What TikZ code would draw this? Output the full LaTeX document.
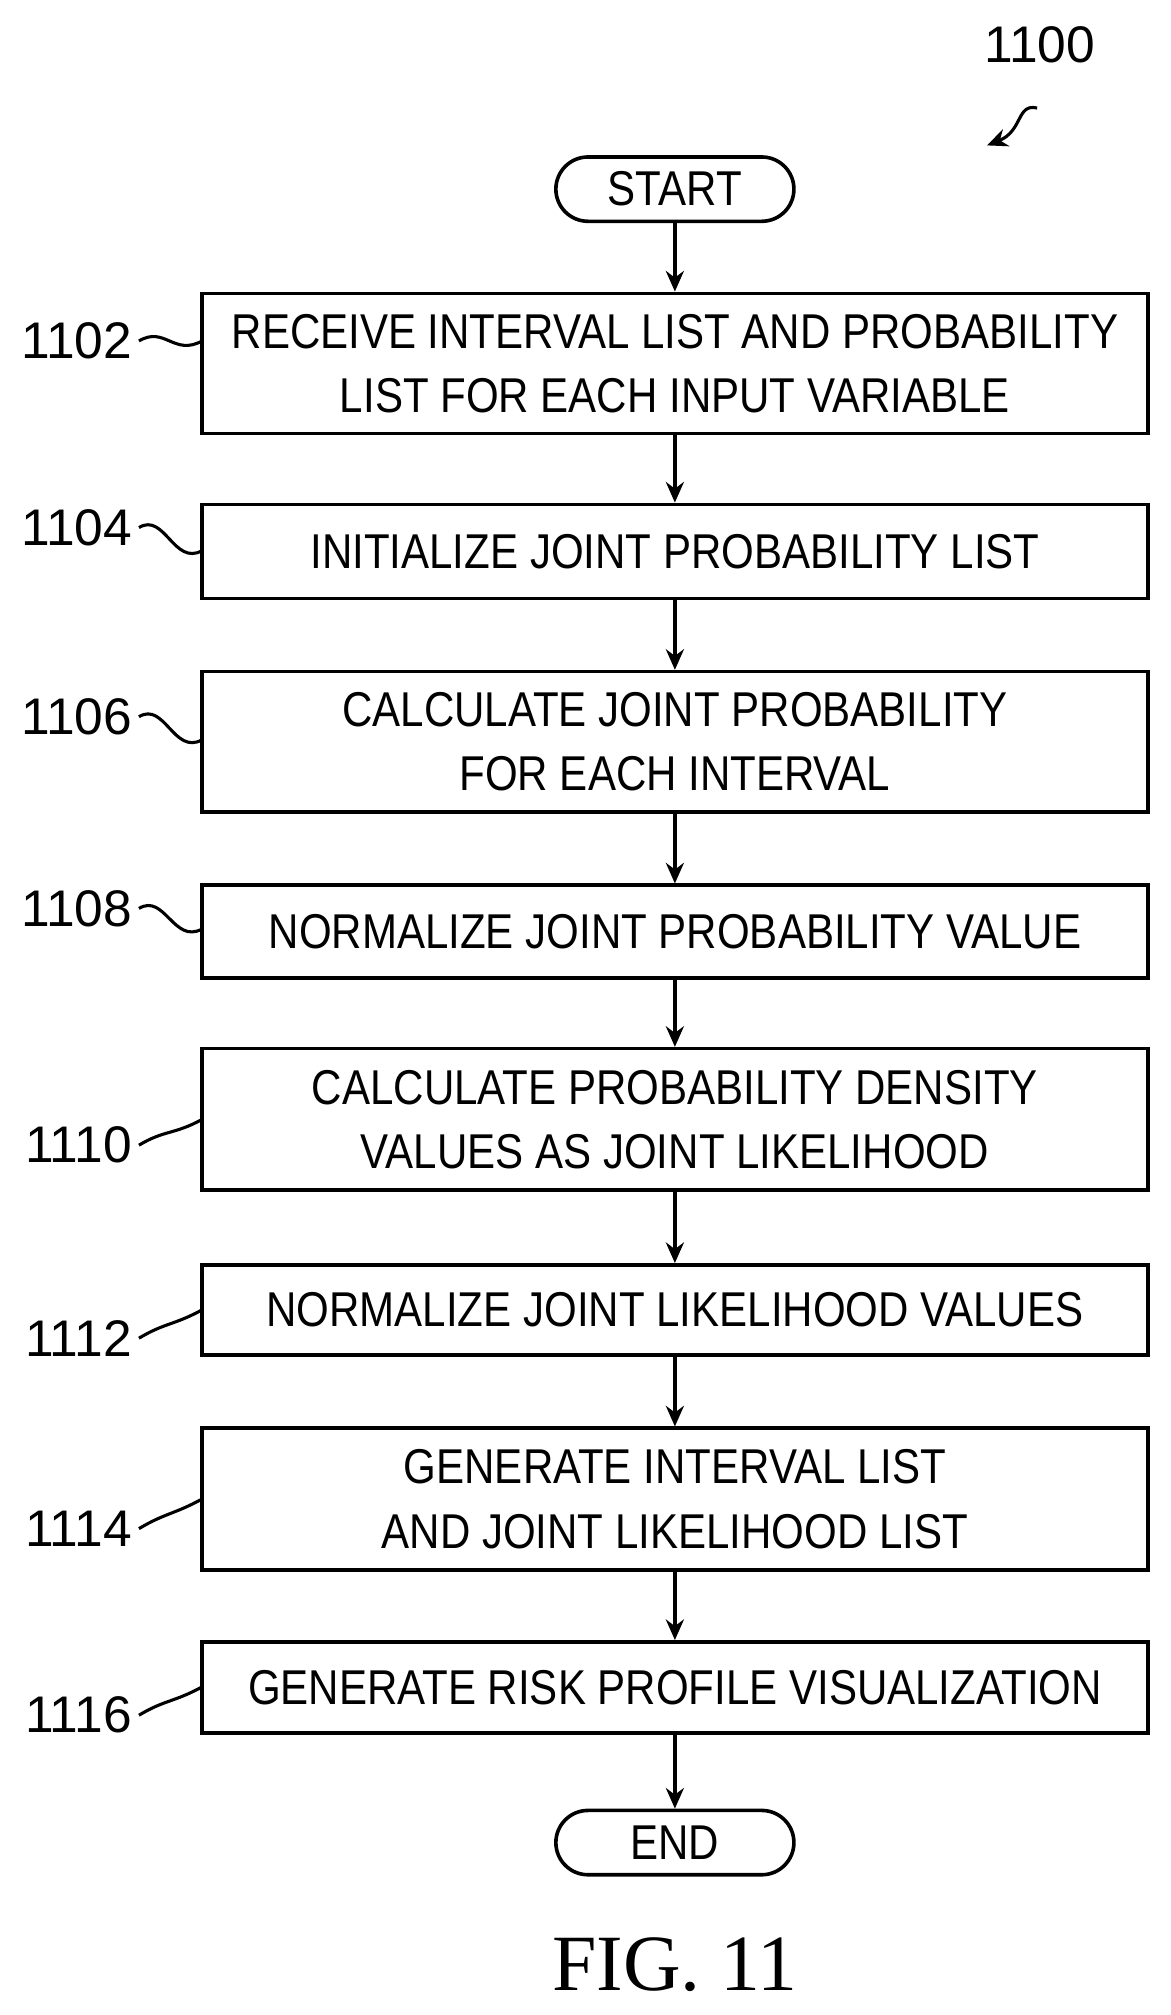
\documentclass[tikz,border=0pt]{standalone}
\usepackage{fontspec}
\setmainfont{Liberation Sans}[FakeStretch=0.86]
\newfontfamily\numfont{Liberation Sans}
\newfontfamily\figfont{Liberation Serif}
\usetikzlibrary{arrows.meta,calc}
\begin{document}
\begin{tikzpicture}[x=0.5pt,y=-0.5pt,
  box/.style={draw,line width=1.4pt,minimum width=367.5pt,align=center,font=\fontsize{19}{25}\selectfont,inner sep=0pt},
  term/.style={draw,line width=1.4pt,minimum width=92.5pt,minimum height=25pt,rounded corners=12.5pt,font=\fontsize{19}{22}\selectfont},
  lbl/.style={font=\numfont\fontsize{20}{24}\selectfont,anchor=east,inner sep=0pt},
  arr/.style={line width=1.4pt,-{Stealth[length=8pt,width=7pt]}},
  sq/.style={line width=1.2pt}]
\useasboundingbox (0,0) rectangle (910,1566);
\node[term] (start) at (524.5,147) {START};
\node[box,minimum height=54.5pt] (b1) at (524.5,282.5) {RECEIVE INTERVAL LIST AND PROBABILITY\\LIST FOR EACH INPUT VARIABLE};
\node[box,minimum height=36.5pt] (b2) at (524.5,428.5) {INITIALIZE JOINT PROBABILITY LIST};
\node[box,minimum height=54.5pt] (b3) at (524.5,576.5) {CALCULATE JOINT PROBABILITY\\FOR EACH INTERVAL};
\node[box,minimum height=36pt] (b4) at (524.5,724) {NORMALIZE JOINT PROBABILITY VALUE};
\node[box,minimum height=55pt] (b5) at (524.5,870) {CALCULATE PROBABILITY DENSITY\\VALUES AS JOINT LIKELIHOOD};
\node[box,minimum height=35pt] (b6) at (524.5,1018) {NORMALIZE JOINT LIKELIHOOD VALUES};
\node[box,minimum height=55pt] (b7) at (524.5,1165) {GENERATE INTERVAL LIST\\AND JOINT LIKELIHOOD LIST};
\node[box,minimum height=35.5pt] (b8) at (524.5,1311.5) {GENERATE RISK PROFILE VISUALIZATION};
\node[term] (end) at (524.5,1432) {END};
\foreach \a/\b in {start/b1,b1/b2,b2/b3,b3/b4,b4/b5,b5/b6,b6/b7,b7/b8,b8/end}
  \draw[arr] (\a) -- (\b);
\node[font=\figfont\fontsize{31}{34}\selectfont] (fig) at (524.5,1527) {FIG. 11};
\node[font=\numfont\fontsize{20}{24}\selectfont] (n1100) at (808,35) {1100};
\coordinate (s0) at (806,84);
\coordinate (s1) at (767,113);
\draw[sq,-{Stealth[length=8pt,width=7pt]}] (s0) .. controls (790,80) and (795,102) .. (s1);
\foreach \n/\ly/\by in {1102/265/265,1104/410/428,1106/557/575,1108/706/722,1110/890/870,1112/1040/1018,1114/1188/1165,1116/1333/1311}{
  \node[lbl] (l\n) at (103,\ly) {\n};
  \coordinate (c\n) at (157,\by);
  \coordinate (d\n) at ($(l\n.east)+(5,0)$);
  \draw[sq] (d\n) .. controls ($(d\n)+(20,-12)$) and ($(c\n)+(-22,12)$) .. (c\n);
}
\end{tikzpicture}
\end{document}
